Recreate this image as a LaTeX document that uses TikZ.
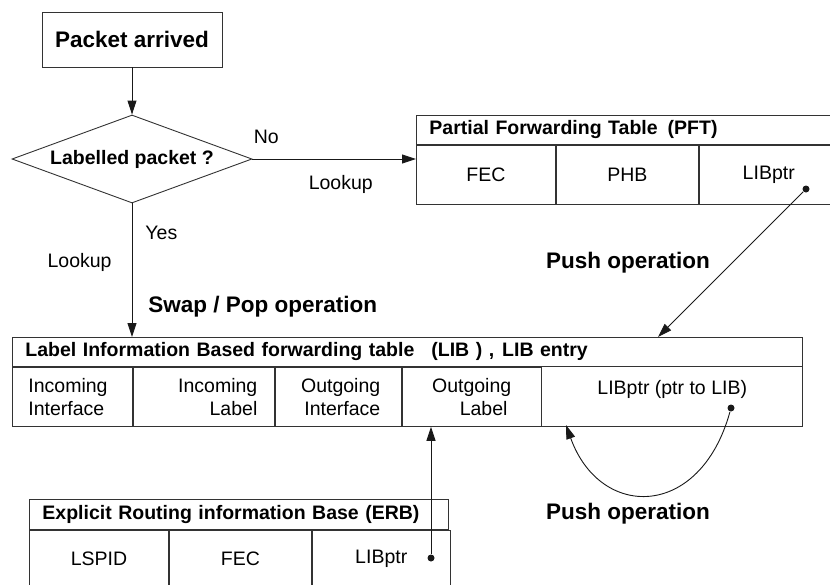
\documentclass[tikz,border=0pt]{standalone}
\usepackage{fontspec}
\setmainfont{Liberation Sans}
\usetikzlibrary{arrows.meta,shapes.geometric,positioning,fit}

\begin{document}
\begin{tikzpicture}[x=1pt, y=-1pt, line width=0.9pt,
    txt/.style={font=\fontsize{19.5}{23.5}\selectfont, inner sep=0pt},
    big/.style={font=\fontsize{22.5}{27}\selectfont\bfseries, inner sep=0pt},
    box/.style={draw=black!80, inner sep=0pt},
    head/.style={box, anchor=north west, align=left, inner xsep=13pt,
        font=\fontsize{19.5}{23.5}\selectfont\bfseries},
    cell/.style={box, anchor=north west, align=center, minimum height=59pt,
        font=\fontsize{19.5}{23.5}\selectfont},
    arr/.style={draw=black!90, -{Triangle[length=14pt,width=9pt]}},
    dot/.style={circle, fill=black!90, inner sep=0pt, minimum size=7pt}]

    \useasboundingbox (0,0) rectangle (830,584);
    \clip (0,0) rectangle (830,584);

    % decision
    \node[box, big, minimum width=180pt, minimum height=55pt] (arrived) at (132,39.5) {Packet arrived};
    \node[box, diamond, aspect=2.7, minimum width=240pt, minimum height=88pt,
        font=\fontsize{19.5}{23.5}\selectfont\bfseries] (labelled) at (132,159) {Labelled packet ?};

    % PFT
    \node[head, text width=418pt, minimum height=29pt] (pft) at (416,115) {Partial Forwarding Table\hspace{10pt}(PFT)};
    \node[cell, minimum width=139pt] (pftfec) at (pft.south west) {FEC};
    \node[cell, minimum width=142pt] (pftphb) at (pftfec.north east) {PHB};
    \node[cell, minimum width=139pt] (pftptr) at (pftphb.north east) {LIBptr};
    \node[dot] (pftdot) at (806,189) {};

    % LIB
    \node[head, text width=764pt, minimum height=29pt] (lib) at (12,337) {Label Information Based forwarding table\hspace{17pt}(LIB ) ,\hspace{8pt}LIB entry};
    \node[cell, text width=88pt, inner xsep=16pt, align=left] (libinif) at (lib.south west) {Incoming\\Interface};
    \node[cell, text width=107pt, inner xsep=17pt, align=right] (libinlab) at (libinif.north east) {Incoming\\Label};
    \node[cell, text width=84pt, inner xsep=21pt, align=right] (liboutif) at (libinlab.north east) {Outgoing\\Interface};
    \node[cell, minimum width=139pt] (liboutlab) at (liboutif.north east) {Outgoing\\\hspace*{24pt}Label};
    \node[box, fit=(liboutlab.north east)(lib.south east |- liboutlab.south),
        font=\fontsize{19.5}{23.5}\selectfont] (libptr) {LIBptr (ptr to LIB)};
    \node[dot] (libdot) at (731,408) {};

    % ERB
    \node[head, text width=393pt, minimum height=30pt] (erb) at (29,499) {Explicit Routing information Base (ERB)};
    \node[cell, minimum width=139pt, minimum height=57pt] (erbid) at (erb.south west) {LSPID};
    \node[cell, minimum width=142pt, minimum height=57pt] (erbfec) at (erbid.north east) {FEC};
    \node[cell, minimum width=138pt, minimum height=57pt] (erbptr) at (erbfec.north east) {LIBptr};
    \node[dot] (erbdot) at (431,558) {};

    \coordinate (pushin) at (658,337);
    \coordinate (libback) at (566,425);

    % connectors
    \draw[arr] (arrived) -- (labelled);
    \draw[arr] (labelled.east) -- (labelled.east -| pft.west)
        node[txt, pos=0.085, above=15pt] (no) {No}
        node[txt, pos=0.54, below=16pt] (lookright) {Lookup};
    \draw[arr] (labelled.south) -- (labelled.south |- lib.north)
        node[txt, pos=0.22, right=13pt] (yes) {Yes}
        node[txt, pos=0.44, left=20pt] (lookleft) {Lookup}
        node[big, pos=0.77, right=16pt] (swap) {Swap / Pop operation};
    \draw[arr] (pftdot) -- (pushin);
    \draw[arr] (erbdot) -- (erbdot |- liboutlab.south);
    \draw[arr] (libdot) .. controls (700,520) and (600,520) .. (libback);

    \node[big] (pushpft) at (628,263) {Push operation};
    \node[big] (pushlib) at (628,514) {Push operation};
\end{tikzpicture}
\end{document}
